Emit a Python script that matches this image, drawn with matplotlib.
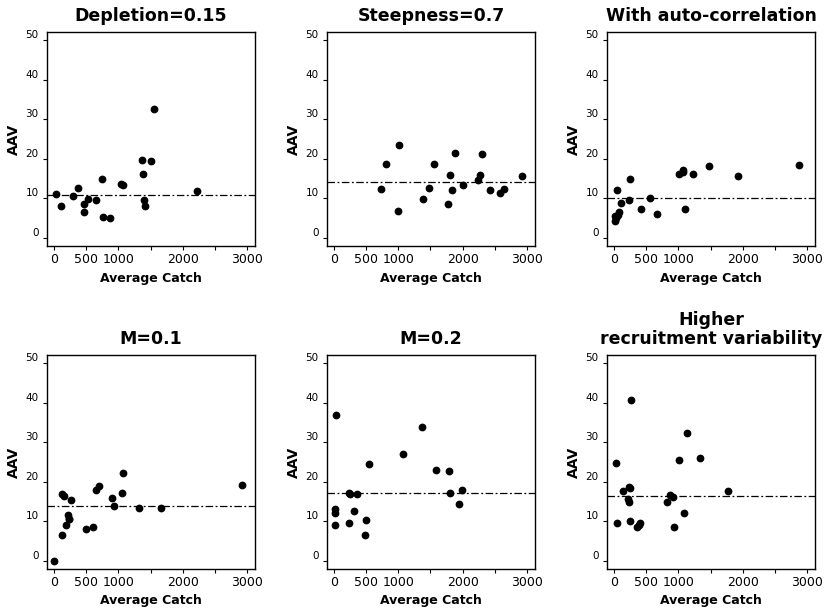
import matplotlib.pyplot as plt
import numpy as np

titles = ['Depletion=0.15', 'Steepness=0.7', 'With auto-correlation',
          'M=0.1', 'M=0.2', 'Higher\nrecruitment variability']

# average catch / AAV for each scenario
catch_dep = [26, 114, 296, 369, 463, 463, 530, 645, 744, 754, 868, 1035, 1066,
             1362, 1378, 1399, 1409, 1503, 1550, 2220]
aav_dep = [11.1, 8.0, 10.5, 12.6, 8.6, 6.7, 9.8, 9.6, 14.8, 5.4, 5.1, 13.7, 13.3,
           19.8, 16.2, 9.7, 8.1, 19.5, 32.7, 12.0]

catch_steep = [736, 803, 995, 1010, 1383, 1471, 1549, 1772, 1808, 1829, 1881,
               2005, 2244, 2275, 2295, 2425, 2585, 2642, 2917]
aav_steep = [12.4, 18.6, 6.9, 23.5, 9.9, 12.6, 18.8, 8.5, 15.9, 12.1, 21.4,
             13.5, 14.6, 15.9, 21.2, 12.1, 11.4, 12.4, 15.6]

catch_auto = [10, 21, 31, 47, 57, 72, 104, 238, 249, 425, 560, 663, 1005, 1067,
              1073, 1109, 1233, 1482, 1927, 2870]
aav_auto = [4.4, 5.6, 5.0, 12.1, 5.9, 6.6, 8.9, 9.7, 14.9, 7.4, 10.1, 6.0, 16.2,
            17.2, 16.6, 7.4, 16.2, 18.3, 15.7, 18.5]

catch_m01 = [0, 130, 130, 155, 181, 218, 228, 238, 269, 497, 611, 648, 699, 902,
             927, 1052, 1078, 1321, 1658, 2922]
aav_m01 = [0.1, 6.5, 17.0, 16.4, 9.2, 11.7, 10.7, 10.5, 15.4, 8.1, 8.6, 18.0,
           19.0, 16.0, 13.9, 17.1, 22.2, 13.5, 13.5, 19.3]

catch_m02 = [26, 10, 10, 10, 233, 254, 238, 306, 363, 482, 492, 544, 1073, 1373,
             1591, 1788, 1808, 1938, 1990]
aav_m02 = [36.8, 13.1, 12.1, 9.2, 17.3, 16.8, 9.5, 12.6, 16.9, 6.7, 10.3, 24.4,
           27.1, 33.9, 23.1, 22.8, 17.3, 14.4, 18.0]

catch_rec = [36, 47, 135, 218, 228, 238, 254, 259, 254, 358, 383, 404, 824, 876,
             917, 933, 1016, 1083, 1140, 1332, 1767]
aav_rec = [24.8, 9.6, 17.8, 15.7, 15.0, 18.6, 18.4, 40.7, 10.1, 8.5, 9.2, 9.5,
           14.8, 16.6, 16.2, 8.5, 25.6, 12.1, 32.2, 26.1, 17.7]

# reference AAV level drawn as a dash-dot line
ref_aav = [10.9, 14.2, 10.0, 13.8, 17.3, 16.5]

catches = [catch_dep, catch_steep, catch_auto, catch_m01, catch_m02, catch_rec]
aavs = [aav_dep, aav_steep, aav_auto, aav_m01, aav_m02, aav_rec]

xticks = [0, 500, 1000, 1500, 2000, 2500, 3000]
xticklabels = ['0', '500', '1000', '', '2000', '', '3000']
yticks = [0, 10, 20, 30, 40, 50]

fig = plt.figure(figsize=(8.28, 6.14), dpi=100)

lefts = [0.0568, 0.3949, 0.7331]
bottoms = [0.5993, 0.0733]
w, h = 0.2512, 0.3485

for i in range(6):
    ax = fig.add_axes([lefts[i % 3], bottoms[i // 3], w, h])
    ax.scatter(catches[i], aavs[i], s=21, color='black', zorder=3)
    ax.axhline(ref_aav[i], color='black', lw=0.9, ls=(0, (6, 2, 1.5, 2)))
    ax.set_xlim(-110, 3125)
    ax.set_ylim(-2, 52)
    ax.set_xticks(xticks)
    ax.set_xticklabels(xticklabels, fontsize=9)
    ax.set_yticks(yticks)
    ax.set_yticklabels([str(t) for t in yticks], fontsize=7.5, va='bottom')
    ax.tick_params(axis='x', length=3, width=0.8, pad=2)
    ax.tick_params(axis='y', length=3, width=0.8, pad=3)
    for sp in ax.spines.values():
        sp.set_linewidth(1.0)
    ax.set_xlabel('Average Catch', fontsize=9, fontweight='bold', labelpad=4)
    ax.set_ylabel('AAV', fontsize=10, fontweight='bold', labelpad=3)
    ax.set_title(titles[i], fontsize=12.5, fontweight='bold', pad=8,
                 linespacing=1.05)

fig.savefig('out.png', dpi=100)
